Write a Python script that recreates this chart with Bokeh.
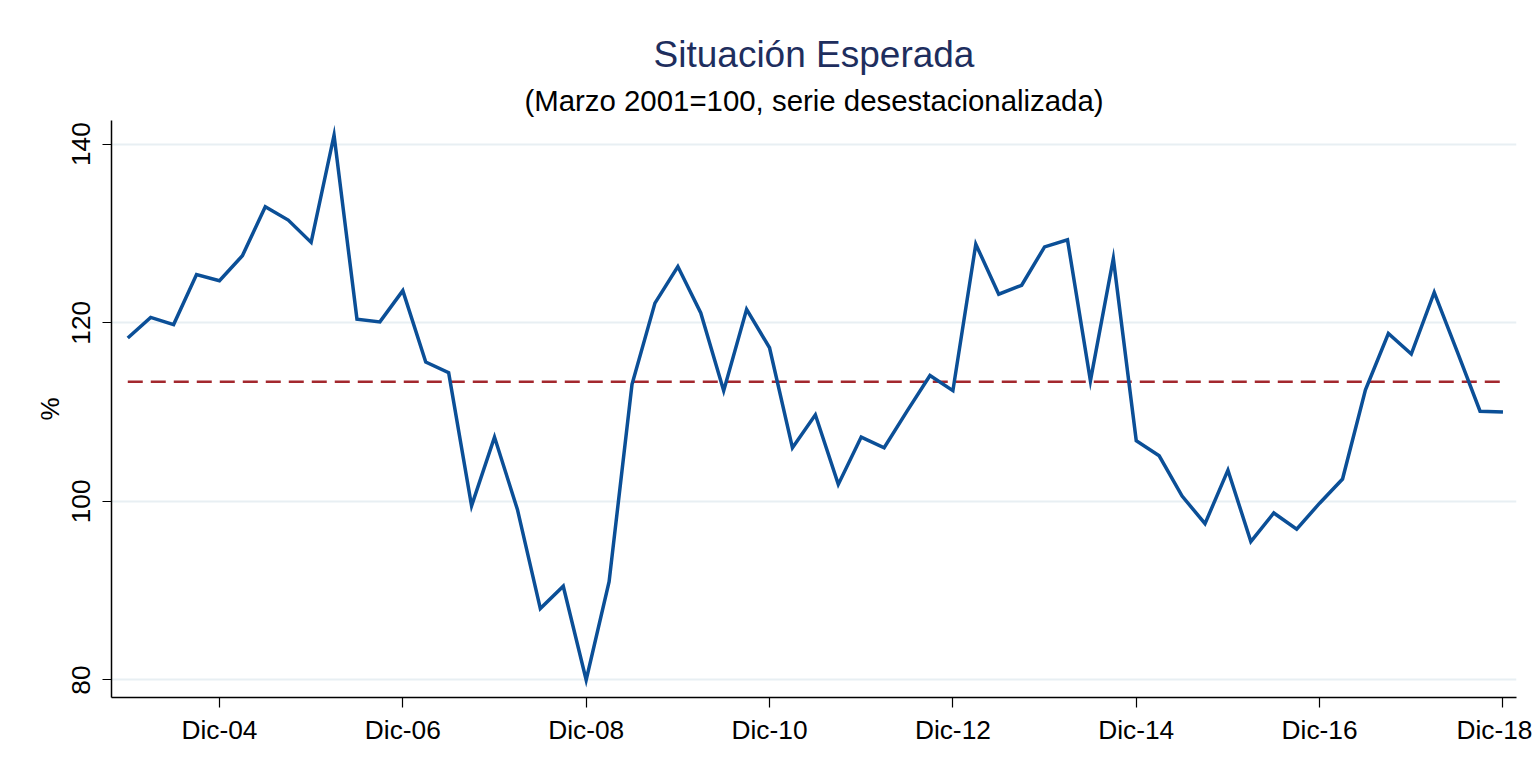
from bokeh.plotting import figure
from bokeh.models import Range1d, FixedTicker, Title
from bokeh.embed import file_html
from bokeh.resources import INLINE

# --- data -------------------------------------------------------------
meses = ["Mar", "Jun", "Sep", "Dic"]
trimestres = ["Dic-03"] + [f"{m}-{a:02d}" for a in range(4, 19) for m in meses]

valores = [
    118.3, 120.6, 119.8, 125.4, 124.7, 127.5, 133.0, 131.5, 129.0, 141.0,
    120.4, 120.1, 123.6, 115.6, 114.4, 99.5, 107.2, 99.1, 88.0, 90.5,
    80.0, 91.0, 113.1, 122.2, 126.3, 121.1, 112.4, 121.5, 117.2, 106.0,
    109.7, 101.9, 107.2, 106.0, 110.1, 114.1, 112.4, 128.8, 123.2, 124.2,
    128.5, 129.3, 113.5, 127.2, 106.8, 105.1, 100.6, 97.5, 103.5, 95.5,
    98.7, 96.9, 99.8, 102.5, 112.5, 118.8, 116.5, 123.4, 116.8, 110.1,
    110.0,
]
promedio = 113.4

etiquetas_x = ["Dic-04", "Dic-06", "Dic-08", "Dic-10", "Dic-12", "Dic-14", "Dic-16", "Dic-18"]
ticks_y = [80, 100, 120, 140]

titulo = "Situación Esperada"
subtitulo = "(Marzo 2001=100, serie desestacionalizada)"

# --- figure -----------------------------------------------------------
x = list(range(len(trimestres)))
pos_x = [trimestres.index(t) for t in etiquetas_x]

FONT = "Liberation Sans"

p = figure(
    width=1532, height=762,
    output_backend="svg", toolbar_location=None,
    title_location=None,
    x_range=Range1d(-0.71, 60.59), y_range=Range1d(78.04, 142.65),
    min_border_left=111, min_border_right=16,
    min_border_top=120, min_border_bottom=65,
)
p.background_fill_color = "white"
p.border_fill_color = "white"
p.outline_line_color = None

# titles
sub = Title(text=subtitulo, align="center", text_font=FONT, text_font_size="29.4px",
            text_font_style="normal", text_color="black", standoff=8)
tit = Title(text=titulo, align="center", text_font=FONT, text_font_size="37px",
            text_font_style="normal", text_color="#1e2e5e", standoff=5)
p.add_layout(sub, "above")
p.add_layout(tit, "above")

# grid
p.xgrid.visible = False
p.ygrid.ticker = FixedTicker(ticks=ticks_y)
p.ygrid.grid_line_color = "#e8eff3"
p.ygrid.grid_line_width = 2

# axes
p.xaxis.ticker = FixedTicker(ticks=pos_x)
p.xaxis.major_label_overrides = {px: lab for px, lab in zip(pos_x, etiquetas_x)}
p.yaxis.ticker = FixedTicker(ticks=ticks_y)
p.yaxis.axis_label = "%"
p.yaxis.major_label_orientation = "vertical"

for ax in (p.xaxis[0], p.yaxis[0]):
    ax.axis_line_color = "black"
    ax.axis_line_width = 1.5
    ax.major_tick_line_color = "black"
    ax.major_tick_line_width = 1.2
    ax.minor_tick_line_color = None
    ax.major_tick_in = 0
    ax.major_label_text_font = FONT
    ax.major_label_text_font_size = "26.3px"
    ax.major_label_text_color = "black"
    ax.axis_label_text_font = FONT
    ax.axis_label_text_font_size = "26px"
    ax.axis_label_text_font_style = "normal"
    ax.axis_label_text_color = "black"

p.xaxis.major_tick_out = 10
p.xaxis.major_label_standoff = 7
p.yaxis.major_tick_out = 9
p.yaxis.major_label_standoff = 12
p.yaxis.axis_label_standoff = 5

# series
p.line([x[0], x[-1]], [promedio, promedio], line_color="#a3282e", line_width=2.5,
       line_dash="15 8")
p.line(x, valores, line_color="#0b4f97", line_width=3.5, line_join="miter")

open("out.html", "w").write(file_html(p, INLINE))
